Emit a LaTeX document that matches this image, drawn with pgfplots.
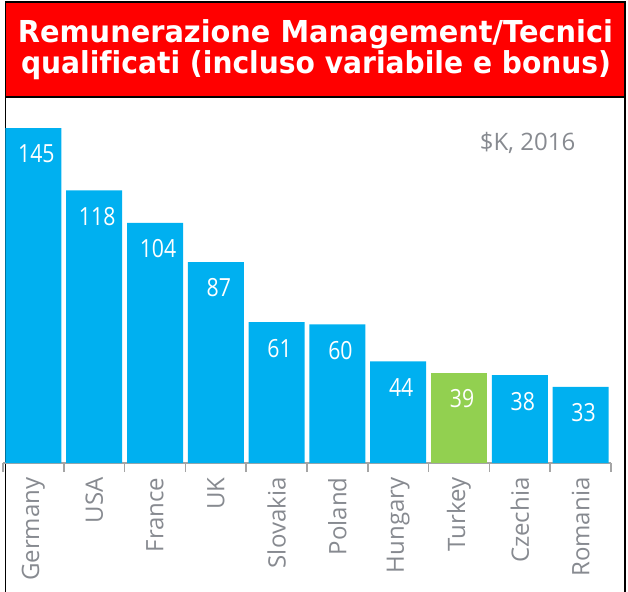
\documentclass[border=0pt]{standalone}
\usepackage{fontspec}
\usepackage{pgfplots}
\pgfplotsset{compat=1.18}
\setmainfont{Open Sans}
\newfontfamily\titlefont[Ligatures=NoCommon]{DejaVu Sans}
\newfontfamily\numfont[FakeStretch=0.85]{Open Sans}
\definecolor{barblue}{HTML}{00B0F0}
\definecolor{bargreen}{HTML}{92D050}
\definecolor{labgray}{HTML}{878A90}
\definecolor{axgray}{HTML}{A5A5A5}
\definecolor{titlered}{HTML}{FF0000}
\begin{document}
\begin{tikzpicture}[x=1pt,y=1pt]
\useasboundingbox (0,0) rectangle (628,591);
\draw[line width=1.2pt] (5.5,-5) -- (5.5,589) -- (625,589) -- (625,-5);
\fill[titlered] (5.5,494) rectangle (625,589);
\draw[line width=1.2pt] (5.5,494) rectangle (625,589);
\node[anchor=base, text=white, inner sep=0] at (315.5,548.3) {\resizebox{595pt}{\height}{\titlefont\bfseries\fontsize{30.2}{30}\selectfont Remunerazione Management/Tecnici}};
\node[anchor=base, text=white, inner sep=0] at (316,517) {\resizebox{590pt}{\height}{\titlefont\bfseries\fontsize{30.2}{30}\selectfont qualificati (incluso variabile e bonus)}};
\node[text=labgray, inner sep=0, font=\fontsize{24}{24}\selectfont] at (527.5,448) {\$K, 2016};
\begin{axis}[
  at={(3pt,128pt)}, anchor=south west,
  scale only axis, width=608pt, height=346.5pt,
  xmin=-0.5, xmax=9.5, ymin=0, ymax=150,
  ybar, bar width=56pt, bar shift=0pt,
  axis y line=none, axis x line*=bottom,
  x axis line style={axgray, line width=1.5pt},
  xtick={0,...,9},
  xticklabels={Germany,USA,France,UK,Slovakia,Poland,Hungary,Turkey,Czechia,Romania},
  major tick length=0pt,
  minor xtick={-0.5,0.5,...,9.5},
  minor tick length=9pt, tick align=outside,
  minor tick style={axgray, line width=1.5pt},
  xticklabel style={rotate=90, anchor=east, font=\fontsize{24}{24}\selectfont, text=labgray},
  xticklabel shift=11pt,
  nodes near coords,
  /pgf/number format/assume math mode=true,
  every node near coord/.append style={anchor=center, yshift=-26pt, xshift=3pt, text=white, font=\numfont\fontsize{25}{25}\selectfont},
  clip=false,
]
\addplot[fill=barblue, draw=none] coordinates {(0,145) (1,118) (2,104) (3,87) (4,61) (5,60) (6,44) (8,38) (9,33)};
\addplot[fill=bargreen, draw=none] coordinates {(7,39)};
\end{axis}
\end{tikzpicture}
\end{document}
